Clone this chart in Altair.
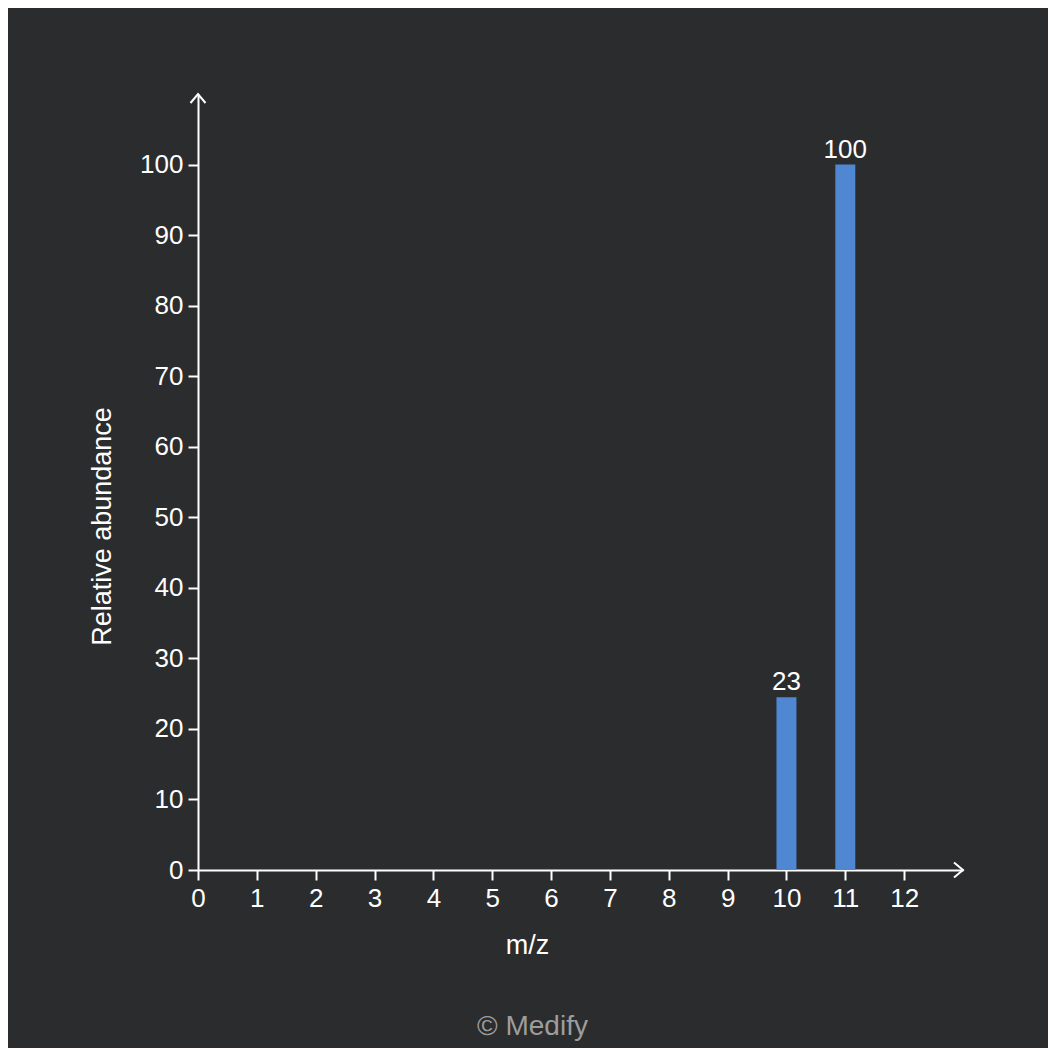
import altair as alt
import pandas as pd

# data
mz = [10, 11]
abundance = [24.5, 100]
labels = ["23", "100"]

x_ticks = list(range(0, 13))
y_ticks = list(range(0, 101, 10))

BG = "#2b2c2e"
BAR = "#4f87d3"
FONT = "Liberation Sans"

df = pd.DataFrame({"mz": mz, "abundance": abundance, "label": labels})
arrows = pd.DataFrame({"mz": [13, 0], "abundance": [0, 110], "ang": [0, 270]})

xs = alt.Scale(domain=[0, 13], nice=False, zero=True, padding=0)
ys = alt.Scale(domain=[0, 110], nice=False, zero=True, padding=0)

x_axis = alt.Axis(
    values=x_ticks, format="d", title="m/z", grid=False,
    domainColor="white", domainWidth=2, tickColor="white", tickWidth=2, tickSize=10,
    labelColor="white", labelFontSize=26, labelFont=FONT, labelPadding=5, labelFlush=False,
    titleColor="white", titleFontSize=27, titleFont=FONT, titleFontWeight="normal",
    titleX=329, titleY=83, titleBaseline="alphabetic", titleAlign="center",
)
y_axis = alt.Axis(
    values=y_ticks, format="d", title="Relative abundance", grid=False,
    domainColor="white", domainWidth=2, tickColor="white", tickWidth=2, tickSize=10,
    labelColor="white", labelFontSize=26, labelFont=FONT, labelPadding=5, labelFlush=False,
    titleColor="white", titleFontSize=27, titleFont=FONT, titleFontWeight="normal",
    titleX=-88, titleY=432, titleBaseline="alphabetic", titleAlign="center", titleAngle=270,
)

bars = alt.Chart(df).mark_bar(size=20, color=BAR).encode(
    x=alt.X("mz:Q", scale=xs, axis=x_axis),
    y=alt.Y("abundance:Q", scale=ys, axis=y_axis),
)

text = alt.Chart(df).mark_text(
    color="white", fontSize=26, font=FONT, baseline="alphabetic", dy=-7
).encode(
    x=alt.X("mz:Q", scale=xs),
    y=alt.Y("abundance:Q", scale=ys),
    text="label:N",
)

arrow = alt.Chart(arrows).mark_point(
    shape="M-1.2,-1L0,0L-1.2,1", filled=False, stroke="white", strokeWidth=2,
    size=225, opacity=1,
).encode(
    x=alt.X("mz:Q", scale=xs),
    y=alt.Y("abundance:Q", scale=ys),
    angle=alt.Angle("ang:Q", scale=None),
)

chart = alt.layer(bars, text, arrow).properties(
    width=765, height=776,
    background=BG,
    padding={"left": 190, "top": 86, "right": 85, "bottom": 178},
    autosize=alt.AutoSizeParams(type="none"),
    title=alt.TitleParams(
        text="© Medify", orient="bottom", anchor="middle", color="#9d9d9d",
        fontSize=28, font=FONT, fontWeight="normal", offset=55, dx=-48,
    ),
).configure_view(stroke=None)

chart.save("out.html", embed_options={"renderer": "svg", "actions": False})
